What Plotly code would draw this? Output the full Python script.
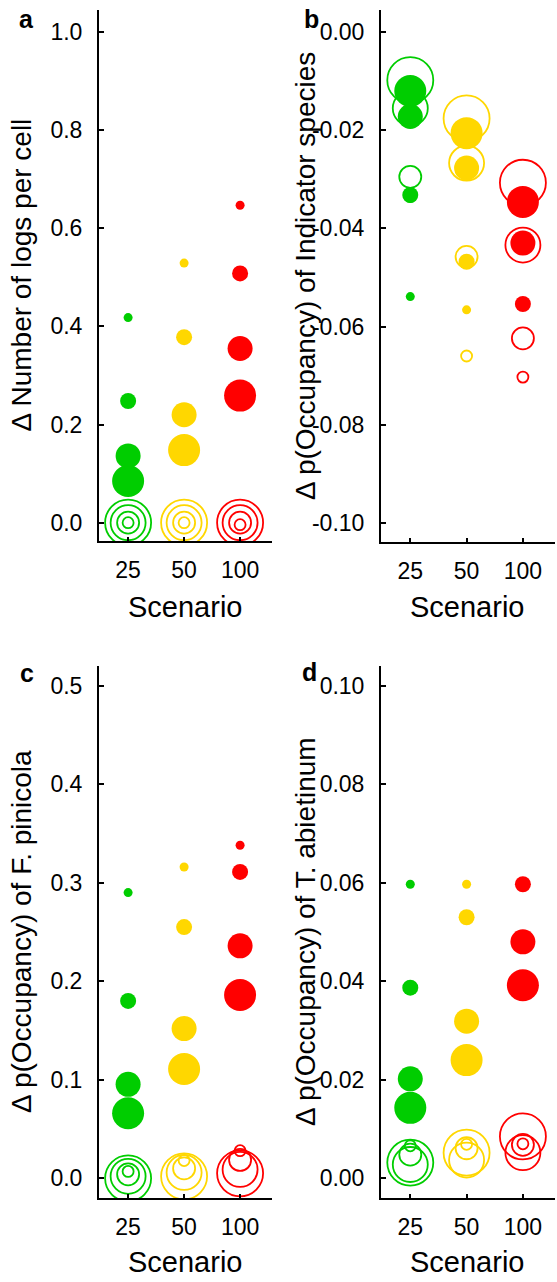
import plotly.graph_objects as go

# ---------------- data ----------------
scenarios = ["25", "50", "100"]
scenario_pos = [1, 2, 3]
colors = ["#00CD00", "#FFD700", "#FF0000"]

# size classes (smallest -> largest)
filled_sizes = [9, 16, 25, 32]
open_sizes = [11, 22, 35, 46]

# Panel a: Δ Number of logs per cell
a_filled_25 = [0.418, 0.248, 0.136, 0.085]
a_filled_50 = [0.529, 0.378, 0.220, 0.148]
a_filled_100 = [0.647, 0.508, 0.355, 0.259]
a_open_25 = [0.0, 0.0, 0.0, 0.0]
a_open_50 = [0.0, 0.0, 0.0, 0.0]
a_open_100 = [-0.004, 0.0, 0.0, 0.0]

# Panel b: Δ p(Occupancy) of Indicator species
b_filled_25 = [-0.0539, -0.0332, -0.0172, -0.0120]
b_filled_50 = [-0.0566, -0.0468, -0.0277, -0.0206]
b_filled_100 = [-0.0554, -0.0554, -0.0430, -0.0346]
b_open_25 = [-0.0335, -0.0295, -0.0155, -0.0098]
b_open_50 = [-0.0660, -0.0458, -0.0267, -0.0176]
b_open_100 = [-0.0703, -0.0624, -0.0434, -0.0307]

# Panel c: Δ p(Occupancy) of F. pinicola
c_filled_25 = [0.290, 0.180, 0.0954, 0.066]
c_filled_50 = [0.316, 0.255, 0.152, 0.111]
c_filled_100 = [0.338, 0.311, 0.236, 0.186]
c_open_25 = [0.007, 0.004, 0.002, 0.0]
c_open_50 = [0.018, 0.010, 0.006, 0.002]
c_open_100 = [0.028, 0.0186, 0.009, 0.005]

# Panel d: Δ p(Occupancy) of T. abietinum
d_filled_25 = [0.0597, 0.0387, 0.0202, 0.0143]
d_filled_50 = [0.0597, 0.0530, 0.0319, 0.0240]
d_filled_100 = [0.0597, 0.0597, 0.0480, 0.0392]
d_open_25 = [0.0066, 0.0048, 0.0028, 0.0032]
d_open_50 = [0.0069, 0.0061, 0.0037, 0.0052]
d_open_100 = [0.0070, 0.0068, 0.0052, 0.0085]

x_title = "Scenario"
y_titles = [
    "Δ Number of logs per cell",
    "Δ p(Occupancy) of Indicator species",
    "Δ p(Occupancy) of F. pinicola",
    "Δ p(Occupancy) of T. abietinum",
]
panel_letters = ["a", "b", "c", "d"]
y_tickvals = [
    [0.0, 0.2, 0.4, 0.6, 0.8, 1.0],
    [-0.10, -0.08, -0.06, -0.04, -0.02, 0.00],
    [0.0, 0.1, 0.2, 0.3, 0.4, 0.5],
    [0.00, 0.02, 0.04, 0.06, 0.08, 0.10],
]
y_ticktext = [
    ["0.0", "0.2", "0.4", "0.6", "0.8", "1.0"],
    ["-0.10", "-0.08", "-0.06", "-0.04", "-0.02", "0.00"],
    ["0.0", "0.1", "0.2", "0.3", "0.4", "0.5"],
    ["0.00", "0.02", "0.04", "0.06", "0.08", "0.10"],
]
y_ranges = [[-0.0373, 1.0448], [-0.1039, 0.0045], [-0.020, 0.520], [-0.004, 0.104]]

panels = [
    ([a_filled_25, a_filled_50, a_filled_100], [a_open_25, a_open_50, a_open_100]),
    ([b_filled_25, b_filled_50, b_filled_100], [b_open_25, b_open_50, b_open_100]),
    ([c_filled_25, c_filled_50, c_filled_100], [c_open_25, c_open_50, c_open_100]),
    ([d_filled_25, d_filled_50, d_filled_100], [d_open_25, d_open_50, d_open_100]),
]

# ---------------- layout geometry (pixels) ----------------
W, H = 557, 1282
x_px = [(99, 272), (381, 555), (99, 272), (381, 555)]
y_px = [(10, 541), (10, 542), (666, 1198), (666, 1198)]
letter_pos = [(27, 19), (311, 19), (27, 673), (309, 672)]
ytitle_x = [21, 305, 21, 305]
xtitle_y = [607, 607, 1262, 1262]

FONT = "Liberation Sans, Arial, Helvetica, sans-serif"

fig = go.Figure()

for p, (filled, opened) in enumerate(panels):
    xa = "x" if p == 0 else f"x{p + 1}"
    ya = "y" if p == 0 else f"y{p + 1}"
    for s in range(3):
        fig.add_trace(go.Scatter(
            x=[scenario_pos[s]] * 4, y=opened[s][::-1],
            mode="markers", xaxis=xa, yaxis=ya, hoverinfo="skip",
            marker=dict(symbol="circle-open", size=open_sizes[::-1], color=colors[s],
                        opacity=1, line=dict(width=1.8, color=colors[s])),
        ))
    for s in range(3):
        fig.add_trace(go.Scatter(
            x=[scenario_pos[s]] * 4, y=filled[s][::-1],
            mode="markers", xaxis=xa, yaxis=ya, hoverinfo="skip",
            marker=dict(symbol="circle", size=filled_sizes[::-1], color=colors[s],
                        opacity=1, line=dict(width=0)),
        ))

layout = dict(
    width=W, height=H,
    margin=dict(l=0, r=0, t=0, b=0, autoexpand=False),
    paper_bgcolor="white", plot_bgcolor="white",
    showlegend=False,
    font=dict(family=FONT, color="black"),
)

annotations = []
for p in range(4):
    xk = "xaxis" if p == 0 else f"xaxis{p + 1}"
    yk = "yaxis" if p == 0 else f"yaxis{p + 1}"
    xa = "x" if p == 0 else f"x{p + 1}"
    ya = "y" if p == 0 else f"y{p + 1}"
    x0, x1 = x_px[p]
    y0, y1 = y_px[p]
    layout[xk] = dict(
        domain=[x0 / W, x1 / W], anchor=ya, range=[0.48, 3.57],
        tickmode="array", tickvals=scenario_pos, ticktext=scenarios,
        ticks="inside", ticklen=4, tickwidth=1.5, tickcolor="black",
        showline=True, linecolor="black", linewidth=2,
        showgrid=False, zeroline=False, automargin=False,
        tickfont=dict(size=23, family=FONT, color="black"),
        ticklabelstandoff=7,
        fixedrange=True,
    )
    layout[yk] = dict(
        domain=[1 - y1 / H, 1 - y0 / H], anchor=xa, range=y_ranges[p],
        tickmode="array", tickvals=y_tickvals[p], ticktext=y_ticktext[p],
        ticks="inside", ticklen=5, tickwidth=1.5, tickcolor="black",
        showline=True, linecolor="black", linewidth=2,
        showgrid=False, zeroline=False, automargin=False,
        tickfont=dict(size=23, family=FONT, color="black"),
        ticklabelstandoff=10,
        fixedrange=True,
    )
    annotations.append(dict(
        text=y_titles[p], x=ytitle_x[p] / W, y=1 - ((y0 + y1) / 2) / H,
        xref="paper", yref="paper", xanchor="center", yanchor="middle",
        textangle=-90, showarrow=False,
        font=dict(size=28, family=FONT, color="black"),
    ))
    annotations.append(dict(
        text=x_title, x=((x0 + x1) / 2 - 1) / W, y=1 - xtitle_y[p] / H,
        xref="paper", yref="paper", xanchor="center", yanchor="middle",
        showarrow=False, font=dict(size=29, family=FONT, color="black"),
    ))
    lx, ly = letter_pos[p]
    annotations.append(dict(
        text=f"<b>{panel_letters[p]}</b>", x=lx / W, y=1 - ly / H,
        xref="paper", yref="paper", xanchor="center", yanchor="middle",
        showarrow=False, font=dict(size=25, family=FONT, color="black"),
    ))
layout["annotations"] = annotations

fig.update_layout(**layout)
fig.write_html(
    "out.html",
    config={"displayModeBar": False},
    post_script="document.body.style.margin='0px';document.body.style.overflow='hidden';",
)
